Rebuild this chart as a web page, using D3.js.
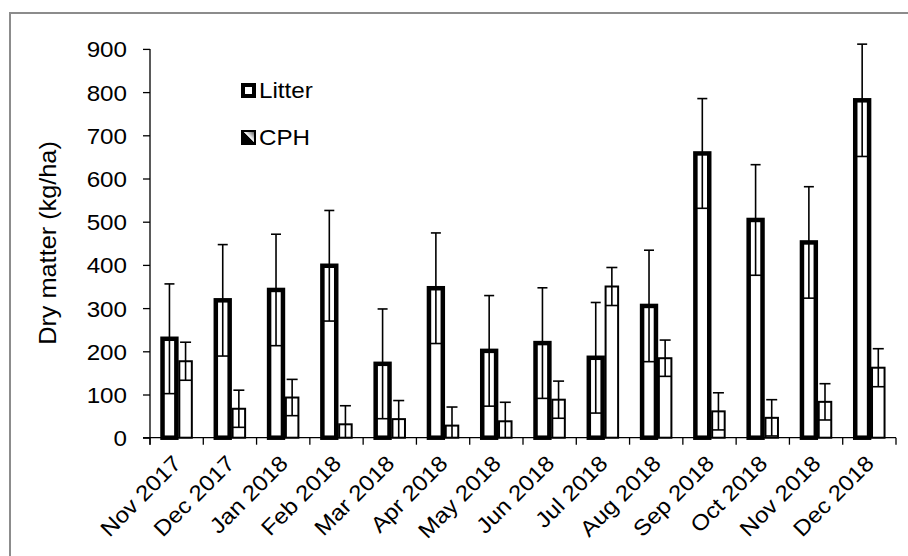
<!DOCTYPE html>
<html>
<head>
<meta charset="utf-8">
<script src="https://cdn.jsdelivr.net/npm/d3@7.9.0/dist/d3.min.js"></script>
<style>
  html, body { margin: 0; padding: 0; background: #fff; }
  text { font-family: "Liberation Sans", Arial, sans-serif; fill: #000; }
</style>
</head>
<body>
<div id="chart"></div>
<script>
const months = ["Nov 2017", "Dec 2017", "Jan 2018", "Feb 2018", "Mar 2018", "Apr 2018", "May 2018",
  "Jun 2018", "Jul 2018", "Aug 2018", "Sep 2018", "Oct 2018", "Nov 2018", "Dec 2018"];
const litter    = [229, 318, 342, 398, 171, 346, 201, 219, 185, 305, 658, 504, 452, 781];
const litterErr = [127, 129, 129, 128, 127, 128, 128, 128, 128, 129, 127, 128, 129, 130];
const cph       = [177, 67, 93, 31, 43, 28, 38, 88, 350, 184, 61, 46, 83, 162];
const cphErr    = [44, 43, 42, 43, 43, 43, 44, 43, 44, 42, 43, 42, 42, 44];
const yTicks = [0, 100, 200, 300, 400, 500, 600, 700, 800, 900];

const width = 908, height = 556;
const fs = 22, sx = 1.1;   // text is a little wider than plain Arial in the source

const svg = d3.select("#chart").append("svg")
  .attr("width", width)
  .attr("height", height);

// outer frame (cut off at right / bottom)
svg.append("rect")
  .attr("x", 10).attr("y", 13)
  .attr("width", 1000).attr("height", 1000)
  .attr("fill", "none")
  .attr("stroke", "#8c8c8c")
  .attr("stroke-width", 2);

const x = d3.scaleBand().domain(months).range([150, 896]);
const y = d3.scaleLinear().domain([0, 900]).range([437.7, 48.9]);
const bw = x.bandwidth();

// axes
const yAxis = svg.append("g")
  .attr("transform", "translate(150,0)")
  .call(d3.axisLeft(y).tickValues(yTicks).tickSize(7));
yAxis.select(".domain").attr("d", `M0,${y(900)}V${y(0) + 7}`).attr("stroke-width", 1.3);
yAxis.selectAll(".tick line").attr("stroke-width", 1.3);
yAxis.selectAll(".tick text")
  .attr("x", null)
  .attr("dy", "0.36em")
  .attr("transform", `translate(-23,0) scale(${sx},1)`)
  .style("font-size", fs + "px")
  .attr("font-family", null);

const xAxis = svg.append("g")
  .attr("transform", `translate(0,${y(0)})`);
xAxis.append("line")
  .attr("x1", 143).attr("x2", 896)
  .attr("stroke", "#000").attr("stroke-width", 1.3);
xAxis.selectAll(".xt")
  .data(months.concat(["end"]))
  .join("line")
  .attr("class", "xt")
  .attr("x1", (d, i) => i < months.length ? x(d) : x.range()[1])
  .attr("x2", (d, i) => i < months.length ? x(d) : x.range()[1])
  .attr("y1", 0).attr("y2", 7)
  .attr("stroke", "#000").attr("stroke-width", 1.3);

xAxis.selectAll(".xl")
  .data(months)
  .join("text")
  .attr("class", "xl")
  .attr("text-anchor", "end")
  .attr("transform", d => `translate(${x(d) + bw / 2 + 6},${27}) rotate(-45) scale(${sx},1)`)
  .style("font-size", fs + "px")
  .text(d => d);

// y title
svg.append("text")
  .attr("transform", `translate(56,243) rotate(-90) scale(${sx},1)`)
  .attr("text-anchor", "middle")
  .style("font-size", "23px")
  .text("Dry matter (kg/ha)");

// bars
const litterX = d => x(d) + 0.235 * bw, litterW = 0.26 * bw;
const cphX = d => x(d) + 0.55 * bw, cphW = 0.235 * bw;

svg.append("g").selectAll("rect")
  .data(months)
  .join("rect")
  .attr("x", litterX)
  .attr("width", litterW)
  .attr("y", (d, i) => y(litter[i]))
  .attr("height", (d, i) => y(0) - y(litter[i]))
  .attr("fill", "#fff")
  .attr("stroke", "#000")
  .attr("stroke-width", 4.5);

svg.append("g").selectAll("rect")
  .data(months)
  .join("rect")
  .attr("x", cphX)
  .attr("width", cphW)
  .attr("y", (d, i) => y(cph[i]))
  .attr("height", (d, i) => y(0) - y(cph[i]))
  .attr("fill", "#fff")
  .attr("stroke", "#000")
  .attr("stroke-width", 2);

// error bars
function errorBars(vals, errs, bx, bwid, cap) {
  const g = svg.append("g").attr("stroke", "#000").attr("stroke-width", 1.6);
  months.forEach((m, i) => {
    const cx = bx(m) + bwid / 2;
    const lo = Math.max(0, vals[i] - errs[i]);
    const hi = vals[i] + errs[i];
    g.append("line").attr("x1", cx).attr("x2", cx).attr("y1", y(lo)).attr("y2", y(hi));
    g.append("line").attr("x1", cx - cap / 2).attr("x2", cx + cap / 2).attr("y1", y(hi)).attr("y2", y(hi));
    if (lo > 0) {
      g.append("line").attr("x1", bx(m)).attr("x2", bx(m) + bwid).attr("y1", y(lo)).attr("y2", y(lo));
    }
  });
}
errorBars(litter, litterErr, litterX, litterW, 10);
errorBars(cph, cphErr, cphX, cphW, 11);

// legend
const defs = svg.append("defs");
const grad = defs.append("linearGradient").attr("id", "cphGrad")
  .attr("x1", "0").attr("y1", "1").attr("x2", "1").attr("y2", "0");
grad.append("stop").attr("offset", "0%").attr("stop-color", "#000");
grad.append("stop").attr("offset", "50%").attr("stop-color", "#000");
grad.append("stop").attr("offset", "55%").attr("stop-color", "#fff");
grad.append("stop").attr("offset", "100%").attr("stop-color", "#444");

const legend = svg.append("g");
legend.append("rect")
  .attr("x", 243).attr("y", 85).attr("width", 11).attr("height", 11)
  .attr("fill", "#fff").attr("stroke", "#000").attr("stroke-width", 4);
legend.append("text")
  .attr("transform", `translate(259,98) scale(${sx},1)`)
  .style("font-size", fs + "px").text("Litter");
legend.append("rect")
  .attr("x", 242).attr("y", 131).attr("width", 13).attr("height", 13)
  .attr("fill", "url(#cphGrad)").attr("stroke", "#000").attr("stroke-width", 2);
legend.append("text")
  .attr("transform", `translate(259,145) scale(${sx},1)`)
  .style("font-size", fs + "px").text("CPH");
</script>
</body>
</html>
